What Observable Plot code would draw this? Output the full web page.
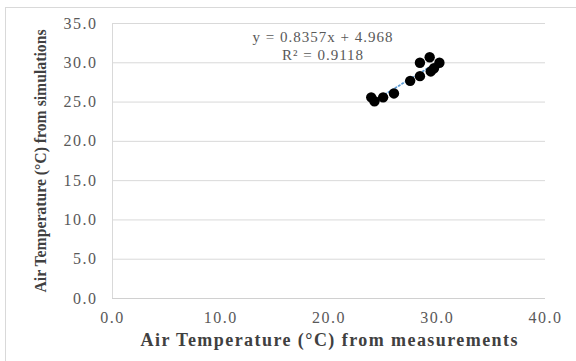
<!DOCTYPE html>
<html>
<head>
<meta charset="utf-8">
<script src="https://cdn.jsdelivr.net/npm/d3@7"></script>
<script src="https://cdn.jsdelivr.net/npm/@observablehq/plot@0.6"></script>
<style>
  html, body { margin: 0; padding: 0; background: #fff; }
  #wrap { position: relative; width: 576px; height: 361px; overflow: hidden; }
  #frame { position: absolute; left: 5px; top: 7px; width: 600px; height: 400px; border: 1px solid #d9d9d9; box-sizing: border-box; pointer-events: none; }
  #chart { position: absolute; left: 0; top: 0; }
  #chart svg, #chart svg text { font-family: "Liberation Serif", "Times New Roman", serif !important; }
</style>
</head>
<body>
<div id="wrap"><div id="chart"></div><div id="frame"></div></div>
<script>
// Measured air temperature (°C)
const measured  = [23.9, 24.2, 25.0, 26.0, 27.5, 28.4, 28.4, 29.3, 30.2, 29.7, 29.4];
// Simulated air temperature (°C)
const simulated = [25.6, 25.1, 25.6, 26.1, 27.7, 28.3, 30.0, 30.7, 30.0, 29.3, 28.9];
// Linear trendline reported on the chart
const slope = 0.8357;
const intercept = 4.968;
const rSquared = 0.9118;
const xTicks = [0, 10, 20, 30, 40];
const yTicks = [0, 5, 10, 15, 20, 25, 30, 35];

const points = measured.map((m, i) => ({x: m, y: simulated[i]}));
const xMin = d3.min(measured), xMax = d3.max(measured);
const trend = [xMin, xMax].map(x => ({x, y: slope * x + intercept}));
const eqLines = [`y = ${slope}x + ${intercept}`, `R² = ${rSquared}`];

const plot = Plot.plot({
  width: 576,
  height: 361,
  marginLeft: 112,
  marginRight: 31,
  marginTop: 23,
  marginBottom: 63,
  style: { background: "transparent", overflow: "visible" },
  x: { domain: [0, 40] },
  y: { domain: [0, 35] },
  marks: [
    Plot.gridY(yTicks.filter(d => d > 0), { stroke: "#d9d9d9", strokeOpacity: 1, strokeWidth: 1 }),
    Plot.ruleY([0], { stroke: "#d0d0d0", strokeWidth: 1 }),
    Plot.ruleX([0], { stroke: "#d9d9d9", strokeWidth: 1 }),
    Plot.axisX({ ticks: xTicks, tickSize: 0, tickPadding: 13, fontSize: 16, fill: "#595959", tickFormat: d => d.toFixed(1),
      label: "Air Temperature (°C) from measurements", labelAnchor: "center", labelOffset: 47, labelArrow: "none" }),
    Plot.axisY({ ticks: yTicks, tickSize: 0, tickPadding: 15, fontSize: 16, fill: "#595959", tickFormat: d => d.toFixed(1),
      label: "Air Temperature (°C) from simulations", labelAnchor: "center", labelOffset: 79, labelArrow: "none" }),
    Plot.line(trend, { x: "x", y: "y", stroke: "#5b9bd5", strokeWidth: 1.75, strokeDasharray: "1.5,2.5" }),
    Plot.dot(points, { x: "x", y: "y", r: 5.2, fill: "#000", stroke: "none" }),
    Plot.text(eqLines, { text: d => d, frameAnchor: "top", dx: -6, lineAnchor: "middle", fontSize: 15, fill: "#595959" })
  ]
});

document.getElementById("chart").appendChild(plot);

const svg = d3.select(plot);
// Position the two equation lines
svg.selectAll('[aria-label="text"] text').each(function(d, i) {
  const t = d3.select(this);
  const tr = t.attr("transform") || "";
  t.attr("transform", tr + ` translate(0,${i === 0 ? 14 : 32})`).style("letter-spacing", "1px");
});
// Tick labels spacing
svg.selectAll('[aria-label="x-axis tick label"] text, [aria-label="y-axis tick label"] text').style("letter-spacing", "1.5px");
// Axis titles styling
svg.selectAll('[aria-label="x-axis label"] text, [aria-label="x-axis label"]')
  .attr("font-weight", "bold").attr("font-size", 18).attr("fill", "#404040");
svg.selectAll('[aria-label="x-axis label"] text')
  .attr("textLength", 377).attr("lengthAdjust", "spacing");
svg.selectAll('[aria-label="y-axis label"] text, [aria-label="y-axis label"]')
  .attr("font-weight", "bold").attr("font-size", 17).attr("fill", "#404040");
svg.selectAll('[aria-label="y-axis label"] text')
  .attr("textLength", 263).attr("lengthAdjust", "spacingAndGlyphs");
</script>
</body>
</html>
